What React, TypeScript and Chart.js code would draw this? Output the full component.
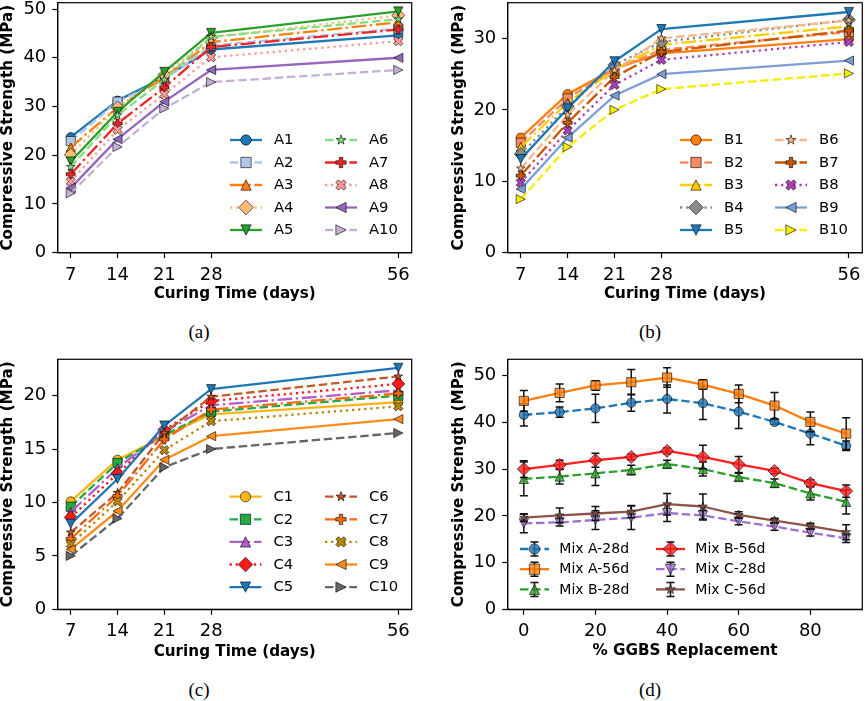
import React, { useEffect, useRef } from "react";
import { Chart, registerables } from "chart.js";

Chart.register(...registerables);
Chart.defaults.font.family = '"DejaVu Sans", sans-serif';

// ---------------- Data ----------------
const curingDays = [7, 14, 21, 28, 56];
const curingTicks = [7, 14, 21, 28, 56];
const ggbsReplacement = [0, 10, 20, 30, 40, 50, 60, 70, 80, 90];
const ggbsTicks = [0, 20, 40, 60, 80];

const yTicksA = [0, 10, 20, 30, 40, 50];
const yTicksB = [0, 10, 20, 30];
const yTicksC = [0, 5, 10, 15, 20];
const yTicksD = [0, 10, 20, 30, 40, 50];

// Panel (a)
const labelsA = ["A1", "A2", "A3", "A4", "A5", "A6", "A7", "A8", "A9", "A10"];
const A1 = [23.7, 31.2, 36.0, 41.7, 44.6];
const A2 = [22.9, 31.0, 35.5, 42.5, 46.0];
const A3 = [21.6, 29.8, 36.0, 43.2, 47.3];
const A4 = [20.1, 29.8, 36.5, 44.2, 48.7];
const A5 = [18.7, 28.9, 37.1, 45.1, 49.5];
const A6 = [17.6, 28.2, 35.5, 44.3, 47.9];
const A7 = [16.1, 26.5, 33.9, 42.2, 45.8];
const A8 = [14.6, 25.2, 32.5, 40.1, 43.4];
const A9 = [13.3, 23.3, 31.0, 37.5, 40.0];
const A10 = [12.2, 21.7, 29.6, 35.0, 37.5];

// Panel (b)
const labelsB = ["B1", "B2", "B3", "B4", "B5", "B6", "B7", "B8", "B9", "B10"];
const B1 = [16.1, 22.2, 25.8, 27.9, 29.9];
const B2 = [15.4, 21.6, 25.7, 28.4, 30.9];
const B3 = [14.8, 21.0, 25.6, 29.1, 31.7];
const B4 = [13.8, 20.5, 26.3, 29.5, 32.6];
const B5 = [13.1, 20.2, 26.8, 31.3, 33.7];
const B6 = [11.8, 19.3, 25.5, 30.0, 32.5];
const B7 = [10.8, 18.2, 24.6, 28.1, 31.1];
const B8 = [9.8, 17.1, 23.5, 27.0, 29.5];
const B9 = [8.9, 16.1, 22.0, 25.0, 26.9];
const B10 = [7.5, 14.8, 20.0, 22.9, 25.1];

// Panel (c)
const labelsC = ["C1", "C2", "C3", "C4", "C5", "C6", "C7", "C8", "C9", "C10"];
const C1 = [10.1, 14.0, 16.2, 18.25, 19.4];
const C2 = [9.6, 13.7, 16.3, 18.5, 20.0];
const C3 = [9.1, 13.2, 16.6, 19.1, 20.5];
const C4 = [8.6, 12.7, 16.8, 19.5, 21.1];
const C5 = [8.0, 12.2, 17.2, 20.6, 22.6];
const C6 = [7.2, 10.9, 16.5, 19.9, 21.8];
const C7 = [6.6, 10.6, 15.9, 18.7, 20.2];
const C8 = [6.1, 10.1, 14.9, 17.6, 19.0];
const C9 = [5.6, 9.2, 14.0, 16.2, 17.8];
const C10 = [5.0, 8.5, 13.3, 15.0, 16.5];

// Panel (d)
const labelsD = ["Mix A-28d", "Mix A-56d", "Mix B-28d", "Mix B-56d", "Mix C-28d", "Mix C-56d"];
const mixA28 = [41.6, 42.2, 43.0, 44.2, 45.0, 44.1, 42.3, 40.1, 37.6, 35.0];
const mixA56 = [44.6, 46.3, 47.9, 48.6, 49.6, 48.1, 46.1, 43.6, 40.1, 37.6];
const mixB28 = [27.9, 28.4, 29.1, 29.8, 31.1, 30.0, 28.3, 27.0, 24.8, 23.0];
const mixB56 = [30.0, 30.9, 31.9, 32.6, 33.9, 32.6, 31.0, 29.6, 27.0, 25.3];
const mixC28 = [18.4, 18.6, 19.1, 19.6, 20.6, 20.1, 18.8, 17.7, 16.4, 15.2];
const mixC56 = [19.6, 20.1, 20.5, 20.9, 22.5, 22.0, 20.2, 19.0, 17.8, 16.5];
const errA28 = [2.4, 1.1, 3.0, 1.8, 3.0, 3.5, 3.6, 0.5, 2.4, 1.0];
const errA56 = [2.2, 1.9, 1.0, 2.7, 2.1, 1.0, 1.9, 2.8, 2.1, 3.4];
const errB28 = [3.6, 1.6, 2.6, 1.0, 0.8, 1.5, 0.8, 0.9, 1.4, 2.6];
const errB56 = [1.8, 1.0, 1.5, 0.6, 0.6, 2.5, 1.7, 0.6, 0.7, 1.3];
const errC28 = [2.0, 0.8, 2.0, 2.5, 1.8, 1.0, 0.7, 0.8, 0.7, 0.9];
const errC56 = [0.8, 1.6, 1.5, 1.3, 2.3, 2.7, 0.7, 0.5, 0.6, 1.6];

// ---------------- Styles ----------------
const markerCycle = ["o", "s", "^", "D", "v", "*", "P", "X", "<", ">"];
const dashCycle = ["solid", "dashed", "dashdot", "dotted", "solid", "dashed", "dashdot", "dotted", "solid", "dashed"];
const colorsA = ["#1f77b4", "#aec7e8", "#ff7f0e", "#ffbb78", "#2ca02c", "#86dc80", "#f02424", "#ff9896", "#9467bd", "#c5b0d5"];
const colorsB = ["#ff7f0e", "#f98b64", "#ffcc00", "#8c8c8c", "#1f77b4", "#f7b88a", "#cc5500", "#ad3fb5", "#7b9fd4", "#f5ee00"];
const colorsC = ["#fdb515", "#22aa44", "#b45cc8", "#ff1a1a", "#1f77b4", "#c25a28", "#ff6a10", "#b8860b", "#ff8c1a", "#666666"];
const colorsD = ["#1f77b4", "#ff7f0e", "#2ca02c", "#ff2020", "#a070d0", "#8c564b"];
const markersD = ["o", "s", "^", "D", "v", "*"];
const dashesD = ["dashed", "solid", "dashed", "solid", "dashed", "solid"];

const LW = 2.3;

function dashArray(style: string): number[] {
  const base: Record<string, number[]> = {
    solid: [],
    dashed: [3.7, 1.6],
    dashdot: [6.4, 1.6, 1, 1.6],
    dotted: [1, 1.65],
  };
  return (base[style] || []).map((v) => v * LW);
}

function rgba(hex: string, a: number) {
  const h = hex.replace("#", "");
  const r = parseInt(h.slice(0, 2), 16);
  const g = parseInt(h.slice(2, 4), 16);
  const b = parseInt(h.slice(4, 6), 16);
  return `rgba(${r},${g},${b},${a})`;
}

function markerPath(ctx: CanvasRenderingContext2D, m: string, x: number, y: number, s: number) {
  const r = s / 2;
  ctx.beginPath();
  const poly = (pts: number[][]) => {
    pts.forEach(([px, py], k) => (k ? ctx.lineTo(x + px, y + py) : ctx.moveTo(x + px, y + py)));
    ctx.closePath();
  };
  switch (m) {
    case "o":
      ctx.arc(x, y, r, 0, Math.PI * 2);
      break;
    case "s":
      poly([[-r, -r], [r, -r], [r, r], [-r, r]]);
      break;
    case "^":
      poly([[0, -r], [r, r], [-r, r]]);
      break;
    case "v":
      poly([[0, r], [r, -r], [-r, -r]]);
      break;
    case "<":
      poly([[-r, 0], [r, -r], [r, r]]);
      break;
    case ">":
      poly([[r, 0], [-r, -r], [-r, r]]);
      break;
    case "D": {
      const d = s * 0.7071;
      poly([[0, -d], [d, 0], [0, d], [-d, 0]]);
      break;
    }
    case "*": {
      const pts: number[][] = [];
      for (let k = 0; k < 10; k++) {
        const ang = -Math.PI / 2 + (k * Math.PI) / 5;
        const rr = k % 2 ? r * 0.381966 : r;
        pts.push([rr * Math.cos(ang), rr * Math.sin(ang)]);
      }
      poly(pts);
      break;
    }
    case "P":
      poly(
        [[-1, -3], [1, -3], [1, -1], [3, -1], [3, 1], [1, 1], [1, 3], [-1, 3], [-1, 1], [-3, 1], [-3, -1], [-1, -1]].map(
          ([a, b]) => [(a * s) / 6, (b * s) / 6]
        )
      );
      break;
    case "X":
      poly(
        [[-1, -2], [0, -1], [1, -2], [2, -1], [1, 0], [2, 1], [1, 2], [0, 1], [-1, 2], [-2, 1], [-1, 0], [-2, -1]].map(
          ([a, b]) => [(a * s) / 4, (b * s) / 4]
        )
      );
      break;
  }
}

function drawMarker(ctx: CanvasRenderingContext2D, m: string, x: number, y: number, s: number, color: string, alpha: number) {
  ctx.save();
  ctx.setLineDash([]);
  markerPath(ctx, m, x, y, s);
  ctx.fillStyle = rgba(color, alpha);
  ctx.fill();
  ctx.lineWidth = 1;
  ctx.strokeStyle = "rgba(0,0,0,0.6)";
  ctx.lineJoin = "miter";
  ctx.stroke();
  ctx.restore();
}

const MS = 9.2;
const LEGEND_MS = 10.3;

// ---------------- Plugins ----------------
const markerPlugin = {
  id: "mplMarkers",
  afterDatasetDraw(chart: any, args: any) {
    const ds = chart.data.datasets[args.index];
    const meta = args.meta;
    const ctx: CanvasRenderingContext2D = chart.ctx;
    const yScale = chart.scales.y;
    if (ds.errors) {
      ctx.save();
      ctx.setLineDash([]);
      ctx.strokeStyle = "#111";
      ctx.lineWidth = 1.5;
      meta.data.forEach((pt: any, i: number) => {
        const v = ds.data[i].y;
        const e = ds.errors[i];
        const t = yScale.getPixelForValue(v + e);
        const b = yScale.getPixelForValue(v - e);
        const cw = 4;
        ctx.beginPath();
        ctx.moveTo(pt.x, t);
        ctx.lineTo(pt.x, b);
        ctx.moveTo(pt.x - cw, t);
        ctx.lineTo(pt.x + cw, t);
        ctx.moveTo(pt.x - cw, b);
        ctx.lineTo(pt.x + cw, b);
        ctx.stroke();
      });
      ctx.restore();
    }
    meta.data.forEach((pt: any) => drawMarker(ctx, ds.marker, pt.x, pt.y, MS, ds.borderColor, ds.markerAlpha));
  },
};

const framePlugin = {
  id: "mplFrame",
  afterDatasetsDraw(chart: any) {
    const { left, top, right, bottom } = chart.chartArea;
    const ctx: CanvasRenderingContext2D = chart.ctx;
    ctx.save();
    ctx.setLineDash([]);
    ctx.strokeStyle = "#000";
    ctx.lineWidth = 1.2;
    ctx.strokeRect(left, top, right - left, bottom - top);
    ctx.restore();
  },
};

const legendPlugin = {
  id: "mplLegend",
  afterDraw(chart: any, _args: any, opts: any) {
    if (!opts || !opts.rows) return;
    const ctx: CanvasRenderingContext2D = chart.ctx;
    chart.data.datasets.forEach((ds: any, i: number) => {
      const col = Math.floor(i / opts.rows);
      const row = i % opts.rows;
      const x0 = opts.x + col * opts.colDx;
      const y = opts.y + row * opts.rowDy;
      const cx = x0 + opts.handleLen / 2;
      ctx.save();
      ctx.strokeStyle = ds.borderColor;
      ctx.lineWidth = LW;
      ctx.lineCap = "butt";
      ctx.setLineDash(ds.borderDash || []);
      ctx.beginPath();
      ctx.moveTo(x0, y);
      ctx.lineTo(x0 + opts.handleLen, y);
      ctx.stroke();
      ctx.restore();
      if (ds.errors) {
        ctx.save();
        ctx.strokeStyle = "#111";
        ctx.lineWidth = 1.5;
        ctx.beginPath();
        ctx.moveTo(cx, y - 7);
        ctx.lineTo(cx, y + 7);
        ctx.moveTo(cx - 4, y - 7);
        ctx.lineTo(cx + 4, y - 7);
        ctx.moveTo(cx - 4, y + 7);
        ctx.lineTo(cx + 4, y + 7);
        ctx.stroke();
        ctx.restore();
      }
      drawMarker(ctx, ds.marker, cx, y, LEGEND_MS, ds.borderColor, ds.markerAlpha);
      ctx.save();
      ctx.fillStyle = "#000";
      ctx.font = `${opts.fontSize}px "DejaVu Sans", sans-serif`;
      ctx.textBaseline = "middle";
      ctx.textAlign = "left";
      ctx.fillText(ds.label, x0 + opts.handleLen + opts.textGap, y + 0.5);
      ctx.restore();
    });
  },
};

// ---------------- Panels ----------------
type LegendCfg = { x: number; y: number; colDx: number; rowDy: number; rows: number; handleLen: number; textGap: number; fontSize: number };
type PanelCfg = {
  left: number;
  top: number;
  w: number;
  h: number;
  area: { left: number; top: number; right: number; bottom: number };
  xMin: number;
  xMax: number;
  xTicks: number[];
  xTitle: string;
  xTitleY: number;
  yMax: number;
  yTicks: number[];
  yTitle: string;
  yTitleX: number;
  xs: number[];
  series: number[][];
  labels: string[];
  colors: string[];
  dashes: string[];
  markers: string[];
  errors?: number[][];
  markerAlpha: number;
  legend: LegendCfg;
};

const TICK_FONT = 18;
const TITLE_FONT = 15.2;

function buildConfig(cfg: PanelCfg): any {
  const n = cfg.series.length;
  const datasets = cfg.series.map((vals, i) => ({
    label: cfg.labels[i],
    data: cfg.xs.map((x, j) => ({ x, y: vals[j] })),
    borderColor: cfg.colors[i],
    backgroundColor: cfg.colors[i],
    borderWidth: LW,
    borderDash: dashArray(cfg.dashes[i]),
    borderCapStyle: "butt",
    borderJoinStyle: "round",
    pointRadius: 0,
    pointHoverRadius: 0,
    tension: 0,
    fill: false,
    order: n - i,
    marker: cfg.markers[i],
    markerAlpha: cfg.markerAlpha,
    errors: cfg.errors ? cfg.errors[i] : undefined,
  }));
  const titleLH = TITLE_FONT;
  return {
    type: "line",
    data: { datasets },
    plugins: [markerPlugin, framePlugin, legendPlugin],
    options: {
      animation: false,
      responsive: false,
      maintainAspectRatio: false,
      events: [],
      layout: {
        padding: { left: 0, top: cfg.area.top, right: cfg.w - cfg.area.right, bottom: 0 },
      },
      scales: {
        x: {
          type: "linear",
          min: cfg.xMin,
          max: cfg.xMax,
          afterBuildTicks: (s: any) => {
            s.ticks = cfg.xTicks.map((v) => ({ value: v }));
          },
          afterFit: (s: any) => {
            s.height = cfg.h - cfg.area.bottom;
            s.paddingLeft = 0;
            s.paddingRight = 0;
          },
          grid: { display: true, drawOnChartArea: false, drawTicks: true, tickLength: 5.4, tickColor: "#000", tickWidth: 1.2 },
          border: { display: true, color: "#000", width: 1.2 },
          ticks: { font: { size: TICK_FONT }, color: "#000", padding: 6, maxRotation: 0, minRotation: 0, autoSkip: false },
          title: {
            display: true,
            text: cfg.xTitle,
            color: "#000",
            font: { size: TITLE_FONT, weight: "bold", lineHeight: 1 },
            padding: { top: 0, bottom: cfg.h - cfg.xTitleY - titleLH / 2 },
          },
        },
        y: {
          type: "linear",
          min: 0,
          max: cfg.yMax,
          afterBuildTicks: (s: any) => {
            s.ticks = cfg.yTicks.map((v) => ({ value: v }));
          },
          afterFit: (s: any) => {
            s.width = cfg.area.left;
            s.paddingTop = 0;
            s.paddingBottom = 0;
          },
          grid: { display: true, drawOnChartArea: false, drawTicks: true, tickLength: 5.4, tickColor: "#000", tickWidth: 1.2 },
          border: { display: true, color: "#000", width: 1.2 },
          ticks: { font: { size: TICK_FONT }, color: "#000", padding: 6, autoSkip: false },
          title: {
            display: true,
            text: cfg.yTitle,
            color: "#000",
            font: { size: TITLE_FONT, weight: "bold", lineHeight: 1 },
            padding: { top: cfg.yTitleX - titleLH / 2, bottom: 0 },
          },
        },
      },
      plugins: {
        legend: { display: false },
        tooltip: { enabled: false },
        mplLegend: cfg.legend,
      },
    },
  };
}

const yTitle = "Compressive Strength (MPa)";

const panels: PanelCfg[] = [
  {
    left: 0, top: 0, w: 430, h: 310,
    area: { left: 57.7, top: 2.7, right: 411.7, bottom: 252.7 },
    xMin: 5.05, xMax: 58, xTicks: curingTicks, xTitle: "Curing Time (days)", xTitleY: 294,
    yMax: 51.3, yTicks: yTicksA, yTitle, yTitleX: 8.3,
    xs: curingDays, series: [A1, A2, A3, A4, A5, A6, A7, A8, A9, A10], labels: labelsA,
    colors: colorsA, dashes: dashCycle, markers: markerCycle, markerAlpha: 1,
    legend: { x: 230, y: 140, colDx: 95, rowDy: 22.5, rows: 5, handleLen: 32, textGap: 12, fontSize: 14.8 },
  },
  {
    left: 430, top: 0, w: 435, h: 310,
    area: { left: 77.7, top: 2.7, right: 432.3, bottom: 252.7 },
    xMin: 5.05, xMax: 58, xTicks: curingTicks, xTitle: "Curing Time (days)", xTitleY: 294,
    yMax: 35.0, yTicks: yTicksB, yTitle, yTitleX: 29.3,
    xs: curingDays, series: [B1, B2, B3, B4, B5, B6, B7, B8, B9, B10], labels: labelsB,
    colors: colorsB, dashes: dashCycle, markers: markerCycle, markerAlpha: 1,
    legend: { x: 250, y: 140, colDx: 95, rowDy: 22.5, rows: 5, handleLen: 32, textGap: 12, fontSize: 14.8 },
  },
  {
    left: 0, top: 350, w: 430, h: 320,
    area: { left: 57.7, top: 9.3, right: 411.7, bottom: 259.3 },
    xMin: 5.05, xMax: 58, xTicks: curingTicks, xTitle: "Curing Time (days)", xTitleY: 301.7,
    yMax: 23.4, yTicks: yTicksC, yTitle, yTitleX: 8.3,
    xs: curingDays, series: [C1, C2, C3, C4, C5, C6, C7, C8, C9, C10], labels: labelsC,
    colors: colorsC, dashes: dashCycle, markers: markerCycle, markerAlpha: 1,
    legend: { x: 229.5, y: 146.7, colDx: 95.5, rowDy: 22.6, rows: 5, handleLen: 32, textGap: 12, fontSize: 14.8 },
  },
  {
    left: 430, top: 350, w: 435, h: 320,
    area: { left: 77.7, top: 9.3, right: 432.3, bottom: 259.3 },
    xMin: -4.5, xMax: 94.5, xTicks: ggbsTicks, xTitle: "% GGBS Replacement", xTitleY: 301,
    yMax: 53.5, yTicks: yTicksD, yTitle, yTitleX: 29.3,
    xs: ggbsReplacement, series: [mixA28, mixA56, mixB28, mixB56, mixC28, mixC56], labels: labelsD,
    colors: colorsD, dashes: dashesD, markers: markersD, markerAlpha: 0.8,
    errors: [errA28, errA56, errB28, errB56, errC28, errC56],
    legend: { x: 90, y: 199, colDx: 136, rowDy: 20.2, rows: 3, handleLen: 29, textGap: 10.3, fontSize: 14 },
  },
];

function Panel({ cfg }: { cfg: PanelCfg }) {
  const ref = useRef<HTMLCanvasElement>(null);
  useEffect(() => {
    const chart = new Chart(ref.current as HTMLCanvasElement, buildConfig(cfg));
    return () => chart.destroy();
  }, [cfg]);
  return (
    <canvas
      ref={ref}
      width={cfg.w}
      height={cfg.h}
      style={{ position: "absolute", left: cfg.left, top: cfg.top, width: cfg.w, height: cfg.h }}
    />
  );
}

const captions = [
  { text: "(a)", cx: 199, cy: 331.7 },
  { text: "(b)", cx: 650, cy: 332 },
  { text: "(c)", cx: 199, cy: 690 },
  { text: "(d)", cx: 650, cy: 690 },
];

export default function App() {
  return (
    <div style={{ position: "absolute", left: 0, top: 0, width: 865, height: 701, background: "#fff", overflow: "hidden" }}>
      {panels.map((p, i) => (
        <Panel key={i} cfg={p} />
      ))}
      {captions.map((c) => (
        <div
          key={c.text}
          style={{
            position: "absolute",
            left: c.cx - 40,
            top: c.cy - 11,
            width: 80,
            height: 22,
            lineHeight: "22px",
            textAlign: "center",
            fontFamily: '"Liberation Serif", "Times New Roman", serif',
            fontSize: 19,
            color: "#000",
          }}
        >
          {c.text}
        </div>
      ))}
    </div>
  );
}
